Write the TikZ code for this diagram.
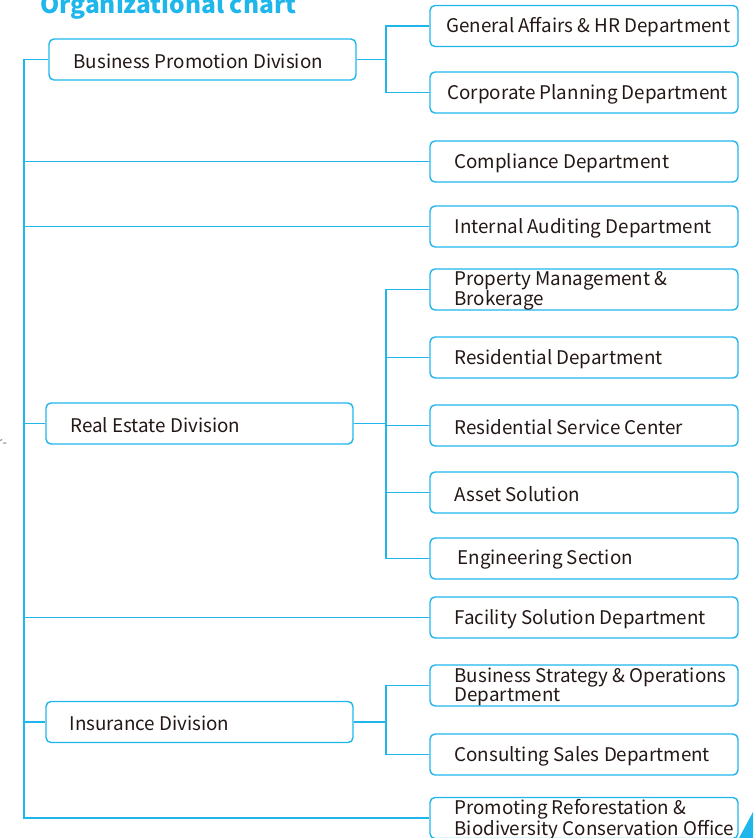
\documentclass[tikz,border=0pt]{standalone}
\usepackage{fontspec}
\setmainfont{Noto Sans CJK JP}
\usetikzlibrary{calc}
\definecolor{lc}{HTML}{1FB6EC}
\definecolor{tc}{HTML}{231815}
\tikzset{
  conn/.style={draw=lc, line width=1.4pt},
  box/.style={draw=lc, line width=1.4pt, rounded corners=5pt, fill=white, minimum width=308pt, minimum height=41pt, inner sep=0pt},
  dbox/.style={box, minimum width=307pt},
  lbl/.style={anchor=west, text=tc, font=\fontsize{18.8}{18.5}\selectfont, inner sep=0pt, align=left},
}
\begin{document}
\begin{tikzpicture}[x=1pt,y=1pt]
\useasboundingbox (0,0) rectangle (753,-838);
% title
\node[anchor=base west, inner sep=0pt, text=lc, font=\fontsize{24.5}{24.5}\bfseries\selectfont] (title) at (40,-13) {Organizational chart};
\node[anchor=base west, inner sep=0pt, text=gray, font=\fontsize{14}{14}\selectfont] (frag) at (-3,-447) {r-};
% trunk coordinates
\coordinate (t0) at (24,-60);
\coordinate (t1) at (24,-818);
% divisions
\node[dbox] (bpd) at (202.5,-59.5) {};
\node[dbox] (red) at (199.5,-423.5) {};
\node[dbox] (ins) at (199.5,-722) {};
% departments
\node[box] (gad) at (584,-26) {};
\node[box] (cpd) at (584,-92.5) {};
\node[box] (cmp) at (584,-161.5) {};
\node[box] (iad) at (584,-226.5) {};
\node[box] (pmb) at (584,-289.5) {};
\node[box] (rsd) at (584,-357.5) {};
\node[box] (rsc) at (584,-425.5) {};
\node[box] (ast) at (584,-492.5) {};
\node[box] (eng) at (584,-558.5) {};
\node[box] (fsd) at (584,-617.5) {};
\node[box] (bso) at (584,-685.5) {};
\node[box] (csd) at (584,-754.5) {};
\node[box] (prb) at (584,-818) {};
% labels
\node[lbl] at ($(bpd.west)+(25,-1.5)$) {Business Promotion Division};
\node[lbl] at ($(red.west)+(25,-1.5)$) {Real Estate Division};
\node[lbl] at ($(ins.west)+(24,-1.5)$) {Insurance Division};
\node[lbl] at ($(gad.west)+(17,-1.5)$) {General Affairs \& HR Department};
\node[lbl] at ($(cpd.west)+(18,-1.5)$) {Corporate Planning Department};
\node[lbl] at ($(cmp.west)+(25,-1.5)$) {Compliance Department};
\node[lbl] at ($(iad.west)+(25,-1.5)$) {Internal Auditing Department};
\node[lbl] at ($(pmb.west)+(25,-1.5)$) {Property Management \&\\Brokerage};
\node[lbl] at ($(rsd.west)+(25,-1.5)$) {Residential Department};
\node[lbl] at ($(rsc.west)+(25,-1.5)$) {Residential Service Center};
\node[lbl] at ($(ast.west)+(25,-1.5)$) {Asset Solution};
\node[lbl] at ($(eng.west)+(28,-1.5)$) {Engineering Section};
\node[lbl] at ($(fsd.west)+(25,-1.5)$) {Facility Solution Department};
\node[lbl] at ($(bso.west)+(25,-1.5)$) {Business Strategy \& Operations\\Department};
\node[lbl] at ($(csd.west)+(25,-1.5)$) {Consulting Sales Department};
\node[lbl] at ($(prb.west)+(25,-1.5)$) {Promoting Reforestation \&\\Biodiversity Conservation Office};
% trunk
\draw[conn] (bpd.west) -| (t0) -- (t1) -- (prb.west);
\draw[conn] (t0 |- cmp.west) -- (cmp.west);
\draw[conn] (t0 |- iad.west) -- (iad.west);
\draw[conn] (t0 |- red.west) -- (red.west);
\draw[conn] (t0 |- fsd.west) -- (fsd.west);
\draw[conn] (t0 |- ins.west) -- (ins.west);
% business promotion branch
\coordinate (b1) at (386,0);
\draw[conn] (bpd.east) -- (b1 |- bpd.east);
\draw[conn] (gad.west) -| (b1 |- cpd.west) -- (cpd.west);
% real estate branch
\draw[conn] (red.east) -- (b1 |- red.east);
\draw[conn] (pmb.west) -| (b1 |- eng.west) -- (eng.west);
\draw[conn] (b1 |- rsd.west) -- (rsd.west);
\draw[conn] (b1 |- rsc.west) -- (rsc.west);
\draw[conn] (b1 |- ast.west) -- (ast.west);
% insurance branch
\draw[conn] (ins.east) -- (b1 |- ins.east);
\draw[conn] (bso.west) -| (b1 |- csd.west) -- (csd.west);
% corner triangle
\fill[lc] (739,-838) -- (753,-812) -- (753,-838) -- cycle;
\end{tikzpicture}
\end{document}
